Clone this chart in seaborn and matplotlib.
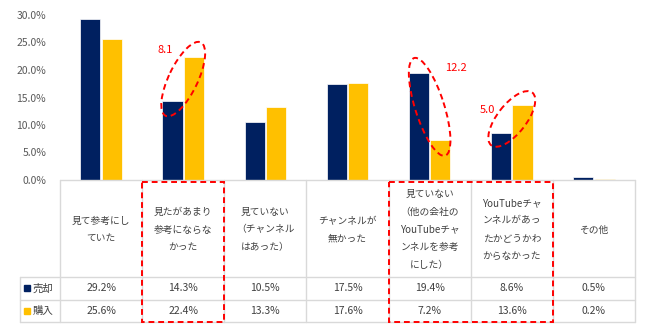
import numpy as np
import pandas as pd
import matplotlib
matplotlib.use("Agg")
import matplotlib.pyplot as plt
from matplotlib.patches import Ellipse, Rectangle
from matplotlib.ticker import FuncFormatter
import seaborn as sns

# ---- data ----
categories = [
    "見て参考にし\nていた",
    "見たがあまり\n参考にならな\nかった",
    "見ていない\n（チャンネル\nはあった）",
    "チャンネルが\n無かった",
    "見ていない\n（他の会社の\nYouTubeチャ\nンネルを参考\nにした）",
    "YouTubeチャ\nンネルがあっ\nたかどうかわ\nからなかった",
    "その他",
]
series_names = ["売却", "購入"]
sell_values = [29.2, 14.3, 10.5, 17.5, 19.4, 8.6, 0.5]
buy_values = [25.6, 22.4, 13.3, 17.6, 7.2, 13.6, 0.2]
yticks = [0, 5, 10, 15, 20, 25, 30]
# annotations: (category index, label, label offset in px from higher bar top)
annotations = [(1, "8.1", (-29, -7)), (4, "12.2", (37, -5)), (5, "5.0", (-35, 5))]
highlight_cols = [(1, 1), (4, 5)]

colors = ["#002060", "#FFC000"]
text_gray = "#404040"
line_gray = "#d9d9d9"
red = "#FF0000"

sns.set_style("white")
plt.rcParams["font.family"] = ["Noto Sans CJK JP", "DejaVu Sans"]

W, H = 650, 330
L, R, TOP, BOT = 60, 635, 15, 180
fig = plt.figure(figsize=(W / 100, H / 100), dpi=100)
ax = fig.add_axes([L / W, 1 - BOT / H, (R - L) / W, (BOT - TOP) / H])

df = pd.DataFrame({
    "cat": list(range(len(categories))) * 2,
    "series": [series_names[0]] * len(categories) + [series_names[1]] * len(categories),
    "value": sell_values + buy_values,
})
df["catname"] = [categories[i] for i in df["cat"]]
sns.barplot(data=df, x="catname", y="value", hue="series", order=categories,
            hue_order=series_names, palette=colors, width=0.52, gap=0.06,
            edgecolor="white", linewidth=0.5, legend=False, ax=ax, saturation=1)
ax.set_xlim(-0.5, len(categories) - 0.5)
ax.set_ylim(0, 30)
ax.set_yticks(yticks)
ax.yaxis.set_major_formatter(FuncFormatter(lambda v, p: f"{v:.1f}%"))
ax.tick_params(axis="y", labelsize=7.5, labelcolor="#595959", length=0, pad=10)
ax.set_xticks([])
ax.set_xlabel("")
ax.set_ylabel("")
for s in ax.spines.values():
    s.set_visible(False)
ax.patch.set_alpha(0)

# overlay axes in pixel coordinates for table & annotations
tax = fig.add_axes([0, 0, 1, 1])
tax.set_xlim(0, W)
tax.set_ylim(H, 0)
tax.axis("off")
tax.patch.set_alpha(0)

n = len(categories)
cw = (R - L) / n
edges = [L + i * cw for i in range(n + 1)]
LBL = 20
HB, R1, R2 = 277, 299.5, 322
kw = dict(color=line_gray, lw=1, zorder=1)
tax.plot([L, R], [BOT, BOT], **kw)
for y in (HB, R1, R2):
    tax.plot([LBL, R], [y, y], **kw)
tax.plot([LBL, LBL], [HB, R2], **kw)
for x in edges:
    tax.plot([x, x], [BOT, R2], **kw)

for i, cat in enumerate(categories):
    cx = (edges[i] + edges[i + 1]) / 2
    tax.text(cx, (BOT + HB) / 2 + 1, cat, ha="center", va="center", fontsize=7,
             color=text_gray, linespacing=1.95, multialignment="center")
    tax.text(cx, (HB + R1) / 2, f"{sell_values[i]:.1f}%", ha="center", va="center",
             fontsize=7.5, color=text_gray)
    tax.text(cx, (R1 + R2) / 2, f"{buy_values[i]:.1f}%", ha="center", va="center",
             fontsize=7.5, color=text_gray)

for (y0, y1), name, c in zip([(HB, R1), (R1, R2)], series_names, colors):
    ym = (y0 + y1) / 2
    tax.plot(27, ym, marker="s", ms=4.5, color=c, mec=c)
    tax.text(33, ym, name, ha="left", va="center", fontsize=7.5, color=text_gray)

# dashed highlight rectangles
for c0, c1 in highlight_cols:
    tax.add_patch(Rectangle((edges[c0], 182), edges[c1 + 1] - edges[c0], R2 - 182,
                            fill=False, ec=red, lw=1.4, ls=(0, (3, 2)), zorder=5))

# ellipses around pairs
fig.canvas.draw()
off = 0.13
for idx, label, (dx, dy) in annotations:
    p1 = ax.transData.transform((idx - off, sell_values[idx]))
    p2 = ax.transData.transform((idx + off, buy_values[idx]))
    a = np.array([p1[0], H - p1[1]])
    b = np.array([p2[0], H - p2[1]])
    c = (a + b) / 2
    d = b - a
    length = np.hypot(*d) + 32
    ang = np.degrees(np.arctan2(-d[1], d[0]))
    e = Ellipse((c[0], c[1]), length, 29, angle=-ang, fill=False, ec=red,
                lw=1.4, ls=(0, (3, 2)), zorder=6)
    tax.add_patch(e)
    top = a if sell_values[idx] > buy_values[idx] else b
    tax.text(top[0] + dx, top[1] + dy, label, ha="center", va="center",
             fontsize=8, color=red)

fig.savefig("out.png", dpi=100)
